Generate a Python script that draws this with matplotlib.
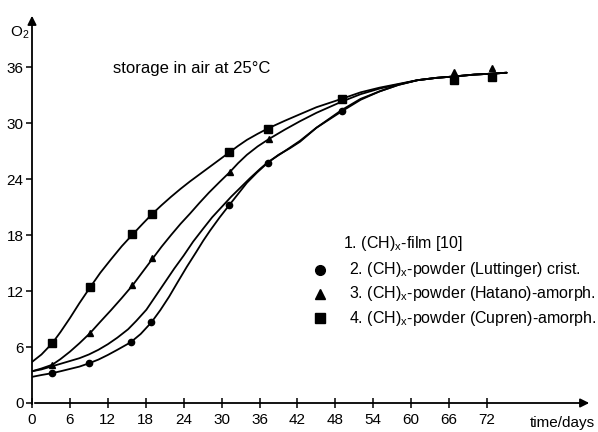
import matplotlib
matplotlib.use("Agg")
import matplotlib.pyplot as plt

plt.rcParams["font.family"] = ["Liberation Sans", "DejaVu Sans"]
plt.rcParams["mathtext.fontset"] = "custom"
plt.rcParams["mathtext.rm"] = "Liberation Sans"

# curves (days, O2)
film_x = [0, 1.5, 3, 4.5, 6, 7.5, 9, 10.5, 12, 13.5, 15.2, 16.5, 18.1, 19.5, 21, 22.5, 24, 25.5, 27.1, 28.5, 30, 31.5, 33, 34.5, 36.1, 37.3, 40, 42.4, 45, 49, 52, 55, 58, 61, 64, 66.8, 70, 72.8, 75.1]
film_y = [3.4, 3.6, 3.9, 4.2, 4.5, 4.8, 5.2, 5.7, 6.3, 7.0, 7.9, 8.8, 10.0, 11.4, 12.9, 14.4, 15.8, 17.3, 18.7, 19.9, 21.0, 22.1, 23.1, 24.1, 25.1, 25.8, 27.0, 28.1, 29.5, 31.4, 32.6, 33.4, 34.1, 34.6, 34.85, 35.0, 35.2, 35.3, 35.4]

crist_x = [0, 1.5, 3.2, 4.5, 6, 7.5, 9, 10.5, 12, 13.5, 15.6, 17.2, 18.9, 20.3, 21.7, 23, 24.5, 26, 27.1, 28.2, 29.7, 31.2, 32.6, 34, 35.6, 37.3, 39, 40.8, 42.4, 45, 49.1, 52, 55, 58, 61, 64, 66.8, 70, 72.8, 75.1]
crist_y = [2.8, 3.0, 3.2, 3.4, 3.65, 3.9, 4.25, 4.65, 5.15, 5.7, 6.5, 7.4, 8.65, 9.95, 11.4, 12.9, 14.6, 16.2, 17.4, 18.5, 19.9, 21.2, 22.4, 23.6, 24.7, 25.75, 26.6, 27.3, 28.0, 29.5, 31.3, 32.5, 33.4, 34.1, 34.6, 34.85, 35.0, 35.2, 35.3, 35.4]

hatano_x = [0, 1.5, 3.2, 4.5, 6, 7.5, 9.2, 10.8, 12.5, 14.2, 15.9, 17.5, 19, 20.5, 22, 23.5, 25, 26.5, 28, 29.7, 31.3, 32.6, 34, 35.7, 37.5, 40, 42.4, 45, 49, 52, 55, 58, 61, 64, 66.8, 70, 72.8, 75.1]
hatano_y = [3.4, 3.7, 4.1, 4.7, 5.5, 6.4, 7.5, 8.7, 9.95, 11.25, 12.6, 14.05, 15.4, 16.75, 18.0, 19.2, 20.3, 21.45, 22.55, 23.7, 24.75, 25.7, 26.6, 27.5, 28.3, 29.3, 30.2, 31.1, 32.3, 33.1, 33.7, 34.15, 34.6, 34.85, 35.0, 35.2, 35.3, 35.4]

cupren_x = [0, 1.5, 3.2, 4.5, 6, 7.5, 9.2, 10.8, 12.5, 14.2, 15.9, 17.5, 19, 20.5, 22, 23.5, 25, 26.5, 28, 29.7, 31.2, 32.6, 34, 35.7, 37.4, 40, 42.4, 45, 49, 52, 55, 58, 61, 64, 66.8, 70, 72.8, 75.1]
cupren_y = [4.4, 5.2, 6.4, 7.6, 9.1, 10.7, 12.4, 13.95, 15.4, 16.8, 18.05, 19.2, 20.25, 21.2, 22.1, 22.95, 23.75, 24.5, 25.25, 26.1, 26.85, 27.55, 28.2, 28.85, 29.45, 30.25, 30.95, 31.7, 32.6, 33.3, 33.8, 34.2, 34.6, 34.85, 35.0, 35.2, 35.3, 35.4]

# measured points
circ_x = [3.2, 9.0, 15.6, 18.9, 31.2, 37.3, 49.1]
circ_y = [3.2, 4.25, 6.5, 8.65, 21.2, 25.75, 31.3]
tri_x = [3.2, 9.2, 15.9, 19.0, 31.3, 37.5, 66.8, 72.8]
tri_y = [4.1, 7.5, 12.6, 15.5, 24.8, 28.3, 35.5, 35.9]
sq_x = [3.2, 9.2, 15.9, 19.0, 31.2, 37.4, 49.0, 66.8, 72.8]
sq_y = [6.4, 12.4, 18.1, 20.3, 26.9, 29.4, 32.6, 34.6, 34.9]

xticks = list(range(0, 73, 6))
yticks = list(range(0, 37, 6))

legend_labels = ["1. (CH)$_\\mathregular{x}$-film [10]",
                 "2. (CH)$_\\mathregular{x}$-powder (Luttinger) crist.",
                 "3. (CH)$_\\mathregular{x}$-powder (Hatano)-amorph.",
                 "4. (CH)$_\\mathregular{x}$-powder (Cupren)-amorph."]

W, H = 598, 432
fig = plt.figure(figsize=(W / 100, H / 100), dpi=100)
ax = fig.add_axes([32 / W, 29 / H, 560 / W, 390 / H])
ax.set_xlim(0, 560 / 6.32)
ax.set_ylim(0, 390 / 9.33)

for cx, cy in [(film_x, film_y), (crist_x, crist_y), (hatano_x, hatano_y), (cupren_x, cupren_y)]:
    ax.plot(cx, cy, color="k", lw=1.3, solid_capstyle="round", solid_joinstyle="round")

ax.plot(circ_x, circ_y, "o", color="k", ms=4.5, ls="none")
ax.plot(tri_x, tri_y, "^", color="k", ms=5, ls="none")
ax.plot(sq_x, sq_y, "s", color="k", ms=6, ls="none")

for s in ax.spines.values():
    s.set_visible(False)
ax.annotate("", xy=(1, 0), xytext=(0, 0), xycoords="axes fraction",
            arrowprops=dict(arrowstyle="-|>", lw=1.3, color="k", mutation_scale=13))
ax.annotate("", xy=(0, 1), xytext=(0, -0.01), xycoords="axes fraction",
            arrowprops=dict(arrowstyle="-|>", lw=1.3, color="k", mutation_scale=13))

ax.set_xticks(xticks)
ax.set_yticks(yticks)
ax.tick_params(axis="x", direction="inout", length=7, width=1.1, labelsize=11, pad=4)
ax.tick_params(axis="y", direction="out", length=4, width=1.1, labelsize=11, pad=2)

ax.text(25.3, 35.9, "storage in air at 25°C", fontsize=12, ha="center", va="center")
fig.text(20 / W, 1 - 33 / H, "O$_\\mathregular{2}$", fontsize=11, ha="center", va="center")
fig.text(562 / W, 1 - 423 / H, "time/days", fontsize=11, ha="center", va="center")

leg_y = [17.1, 14.3, 11.7, 9.1]
leg_x = [49.2, 50.2, 50.2, 50.2]
leg_m = [None, "o", "^", "s"]
leg_ms = [0, 7, 7.5, 7]
for lab, lx, ly, m, ms in zip(legend_labels, leg_x, leg_y, leg_m, leg_ms):
    if m:
        ax.plot([45.6], [ly], m, color="k", ms=ms)
    ax.text(lx, ly, lab, fontsize=11.5, ha="left", va="center")

fig.savefig("out.png", dpi=100)
